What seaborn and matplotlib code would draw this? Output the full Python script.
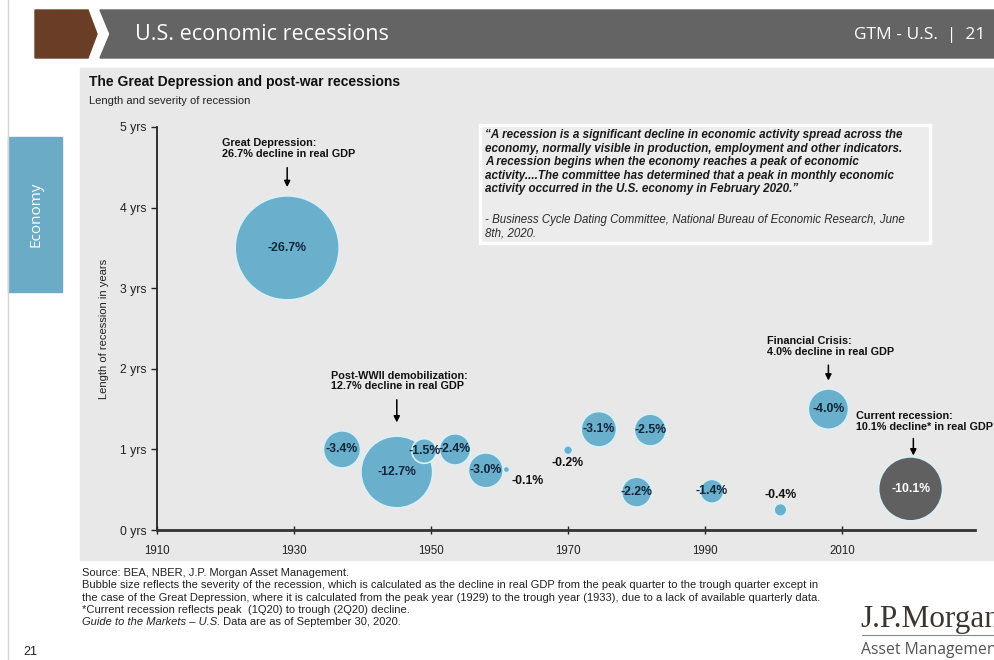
import matplotlib
matplotlib.use("Agg")
import matplotlib.pyplot as plt
from matplotlib.patches import Polygon, Rectangle
import seaborn as sns
import pandas as pd

# recession data
years = [1929, 1937, 1945, 1949, 1953.5, 1958, 1961, 1970, 1974.5, 1980, 1982, 1991, 2001, 2008, 2020]
lengths = [3.5, 1.0, 0.72, 0.98, 1.0, 0.74, 0.75, 0.99, 1.25, 0.47, 1.24, 0.48, 0.25, 1.5, 0.51]
declines = [26.7, 3.4, 12.7, 1.5, 2.4, 3.0, 0.1, 0.2, 3.1, 2.2, 2.5, 1.4, 0.4, 4.0, 10.1]
kinds = ["past"] * 14 + ["current"]

x_ticks = [1910, 1930, 1950, 1970, 1990, 2010]
y_ticks = [0, 1, 2, 3, 4, 5]
y_tick_labels = ["%d yrs" % v for v in y_ticks]

df = pd.DataFrame({"year": years, "length": lengths, "decline": declines, "kind": kinds})
df["label"] = ["-%.1f%%" % d for d in declines]

W, H = 994, 660
def fx(p):
    return p / W
def fy(p):
    return 1 - p / H

sns.set_theme(style="white")
plt.rcParams["font.family"] = ["Liberation Sans", "DejaVu Sans"]

fig = plt.figure(figsize=(9.94, 6.60), dpi=100)
fig.patch.set_facecolor("white")

# page decorations
fig.add_artist(plt.Line2D([fx(8), fx(8)], [0, 1], color="#d6d6d6", lw=1))
fig.add_artist(Polygon([(fx(35), fy(10)), (fx(88), fy(10)), (fx(97), fy(34)), (fx(88), fy(58)), (fx(35), fy(58))],
                       closed=True, color="#6a3e26", transform=fig.transFigure))
fig.add_artist(Polygon([(fx(100), fy(10)), (fx(994), fy(10)), (fx(994), fy(58)), (fx(100), fy(58)), (fx(110), fy(34))],
                       closed=True, color="#646464", transform=fig.transFigure))
fig.text(fx(135), fy(35), "U.S. economic recessions", color="white", fontsize=15.5,
         family=["Open Sans", "DejaVu Sans"], va="center", ha="left")
fig.text(fx(985), fy(35), "GTM - U.S.  |  21", color="white", fontsize=12.5,
         family=["Open Sans", "DejaVu Sans"], va="center", ha="right")

fig.add_artist(Rectangle((fx(8), fy(292)), fx(62) - fx(8), fy(137) - fy(292), color="#6babc5",
                         transform=fig.transFigure))
fig.text(fx(36), fy(214), "Economy", color="white", rotation=90, fontsize=11,
         family=["Open Sans", "DejaVu Sans"], va="center", ha="center")

fig.add_artist(Rectangle((fx(80), fy(560)), fx(994) - fx(80), fy(68) - fy(560), color="#e8e8e8",
                         transform=fig.transFigure, zorder=0))

fig.text(fx(89), fy(82), "The Great Depression and post-war recessions", fontsize=10,
         fontweight="bold", va="center", color="#111111")
fig.text(fx(89), fy(101), "Length and severity of recession", fontsize=8, va="center", color="#222222")

# quote box
fig.add_artist(Rectangle((fx(480), fy(243)), fx(930) - fx(480), fy(125) - fy(243), facecolor="#ececec",
                         edgecolor="white", lw=2.5, transform=fig.transFigure, zorder=1))
quote = ("\u201cA recession is a significant decline in economic activity spread across the\n"
         "economy, normally visible in production, employment and other indicators.\n"
         "A recession begins when the economy reaches a peak of economic\n"
         "activity....The committee has determined that a peak in monthly economic\n"
         "activity occurred in the U.S. economy in February 2020.\u201d")
fig.text(fx(485), fy(129), quote, fontsize=8.4, fontweight="bold", fontstyle="italic",
         va="top", ha="left", linespacing=1.18, color="#1a1a1a", zorder=2)
fig.text(fx(485), fy(214), "- Business Cycle Dating Committee, National Bureau of Economic Research, June\n8th, 2020.",
         fontsize=8.3, fontstyle="italic", va="top", ha="left", linespacing=1.18, color="#2a2a2a", zorder=2)

# main axes
ax = fig.add_axes([fx(157), fy(530), fx(975) - fx(157), fy(127) - fy(530)])
ax.patch.set_alpha(0)
sns.scatterplot(data=df, x="year", y="length", size="decline", sizes=(0, 5607), size_norm=(0, 26.7),
                hue="kind", palette={"past": "#6aafcb", "current": "#606060"}, legend=False,
                edgecolor="#d8f0f8", linewidth=1.2, alpha=1, ax=ax, zorder=3, clip_on=False)

small_offsets = {"-0.1%": (15, -8), "-0.2%": (0, -9.5), "-0.4%": (0, 10.5)}
for _, r in df.iterrows():
    if r["label"] in small_offsets:
        ax.annotate(r["label"], (r["year"], r["length"]), xytext=small_offsets[r["label"]],
                    textcoords="offset points", ha="center", va="center", fontsize=8.8,
                    fontweight="bold", color="#111111", zorder=4)
    else:
        c = "white" if r["kind"] == "current" else "#13253a"
        ax.text(r["year"], r["length"], r["label"], ha="center", va="center", fontsize=8.8,
                fontweight="bold", color=c, zorder=4)

notes = [
    (1919.5, 4.6, 1929, 4.53, 4.22, "Great Depression:\n26.7% decline in real GDP"),
    (1935.4, 1.72, 1945, 1.65, 1.30, "Post-WWII demobilization:\n12.7% decline in real GDP"),
    (1999.1, 2.15, 2008, 2.08, 1.82, "Financial Crisis:\n4.0% decline in real GDP"),
    (2012.0, 1.22, 2020.4, 1.17, 0.89, "Current recession:\n10.1% decline* in real GDP"),
]
for tx, ty, axx, y0, y1, txt in notes:
    ax.text(tx, ty, txt, fontsize=7.8, fontweight="bold", ha="left", va="bottom",
            color="#111111", linespacing=1.1, clip_on=False)
    ax.annotate("", xy=(axx, y1), xytext=(axx, y0),
                arrowprops=dict(arrowstyle="-|>", color="black", lw=1.1, mutation_scale=9))

ax.set_xlim(1910, 2029.4)
ax.set_ylim(0, 5)
ax.set_xticks(x_ticks)
ax.set_yticks(y_ticks)
ax.set_yticklabels(y_tick_labels)
ax.set_xlabel("")
ax.set_ylabel("Length of recession in years", fontsize=8, color="#222222", labelpad=8)
for s in ["top", "right"]:
    ax.spines[s].set_visible(False)
ax.spines["left"].set_color("#222222")
ax.spines["left"].set_linewidth(1.3)
ax.spines["bottom"].set_color("#333333")
ax.spines["bottom"].set_linewidth(2)
ax.tick_params(axis="y", direction="out", length=4, width=1, left=True, labelsize=8.8, colors="#222222")
ax.tick_params(axis="x", direction="inout", length=6, width=1, bottom=True, labelsize=8.3,
               colors="#222222", pad=8)

# footnotes
fs = 8
foot = ["Source: BEA, NBER, J.P. Morgan Asset Management.",
        "Bubble size reflects the severity of the recession, which is calculated as the decline in real GDP from the peak quarter to the trough quarter except in",
        "the case of the Great Depression, where it is calculated from the peak year (1929) to the trough year (1933), due to a lack of available quarterly data.",
        "*Current recession reflects peak  (1Q20) to trough (2Q20) decline."]
for i, line in enumerate(foot):
    fig.text(fx(82), fy(573 + i * 12.3), line, fontsize=fs, va="center", color="#222222")
t1 = fig.text(fx(82), fy(622), "Guide to the Markets \u2013 U.S.", fontsize=fs, fontstyle="italic",
              va="center", color="#222222")
fig.canvas.draw()
bb = t1.get_window_extent()
fig.text(bb.x1 / W, fy(622), " Data are as of September 30, 2020.", fontsize=fs, va="center", color="#222222")

fig.text(fx(30), fy(652), "21", fontsize=9, ha="center", va="center", color="#222222")
fig.text(fx(860), fy(619), "J.P.Morgan", fontsize=22.5, family=["Liberation Serif", "DejaVu Serif"],
         va="center", ha="left", color="#3d3530")
fig.add_artist(plt.Line2D([fx(862), fx(994)], [fy(635), fy(635)], color="#888888", lw=0.8))
fig.text(fx(861), fy(650), "Asset Management", fontsize=11.3, family=["Open Sans", "DejaVu Sans"],
         va="center", ha="left", color="#555555")

fig.savefig("out.png", dpi=100)
